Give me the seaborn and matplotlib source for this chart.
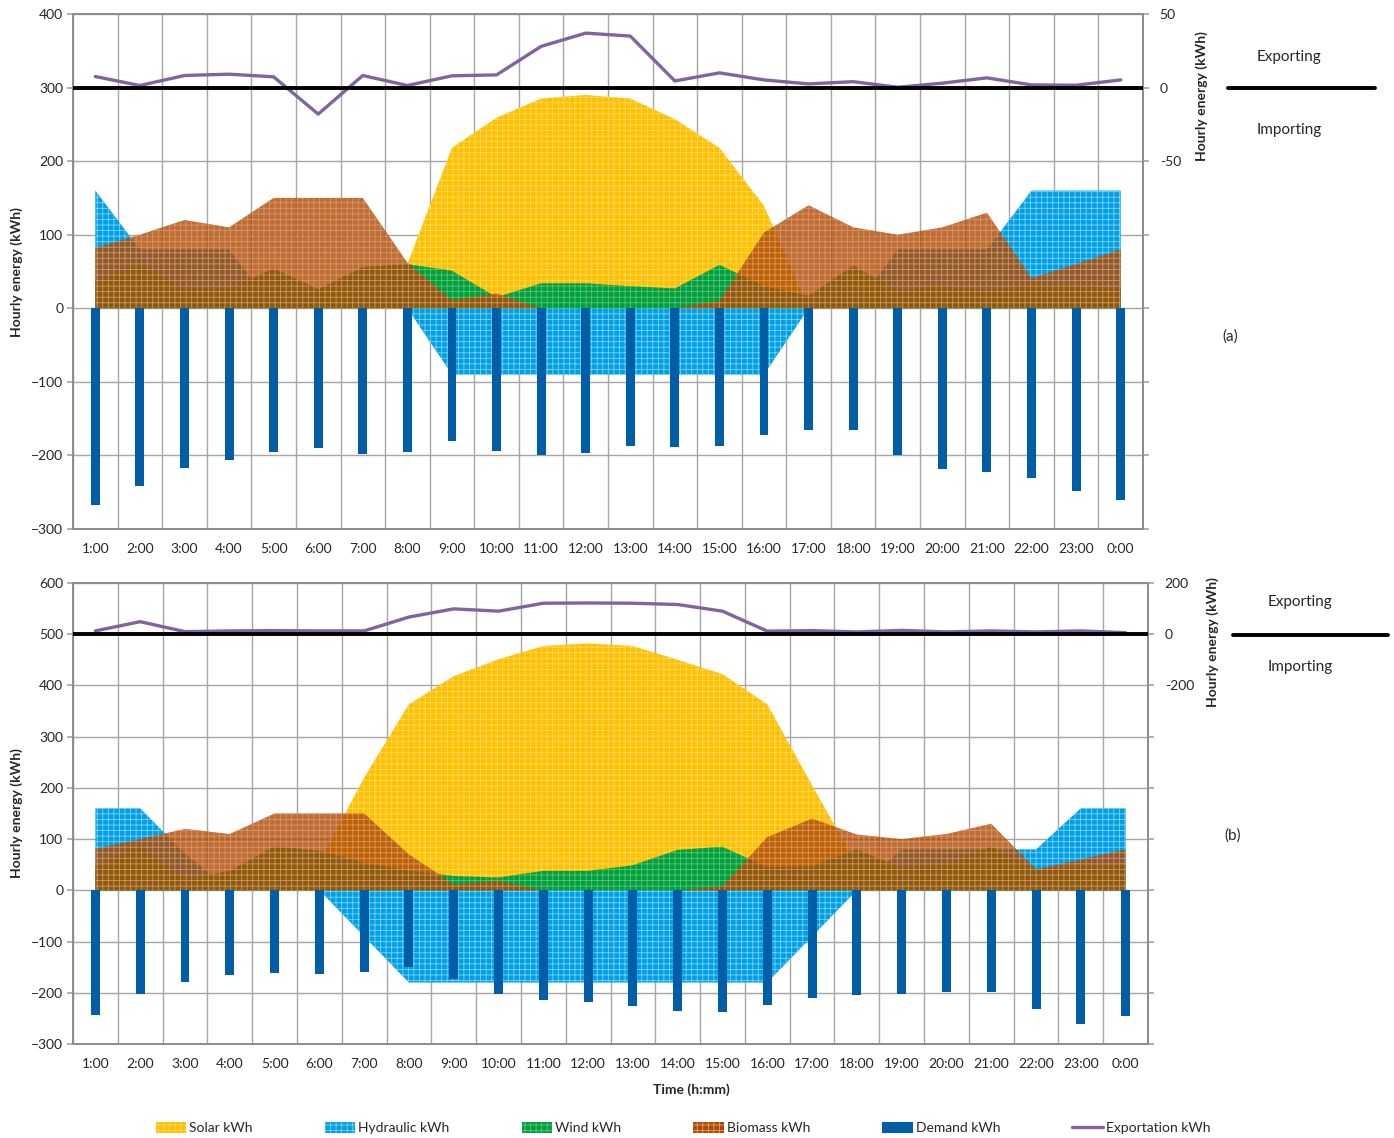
import numpy as np
import matplotlib
matplotlib.use("Agg")
import matplotlib.pyplot as plt
import seaborn as sns
from matplotlib.patches import Patch
from matplotlib.lines import Line2D

# ======================================
# Data
# ======================================

hours = ['1:00', '2:00', '3:00', '4:00', '5:00', '6:00', '7:00', '8:00', '9:00', '10:00',
         '11:00', '12:00', '13:00', '14:00', '15:00', '16:00', '17:00', '18:00', '19:00',
         '20:00', '21:00', '22:00', '23:00', '0:00']

# panel (a)
solar_a = [0, 0, 0, 0, 0, 0, 0, 60, 218, 259, 285, 290, 285, 257, 218, 139, 0, 0, 0, 0, 0, 0, 0, 0]
hydro_a = [160, 80, 80, 80, 0, 0, 0, 0, -90, -90, -90, -90, -90, -90, -90, -90, 0, 0, 80, 80, 80, 160, 160, 160]
wind_a = [37, 60, 27, 27, 54, 26, 56, 60, 51, 15, 34, 34, 30, 27, 59, 30, 17, 58, 24, 30, 24, 33, 30, 28]
biomass_a = [82, 100, 120, 110, 150, 150, 150, 62, 11, 20, 0, 0, 0, 0, 10, 103, 140, 110, 100, 110, 130, 41, 60, 80]
demand_a = [-268, -241, -217, -206, -196, -190, -198, -196, -181, -194, -200, -197, -187, -189, -187,
            -172, -165, -165, -200, -218, -223, -231, -249, -260]
export_a = [7.5, 1.4, 8.2, 9.1, 7.3, -18, 8.2, 1.4, 8, 8.6, 28, 37, 35, 4.5, 10, 5.2, 2.5, 4, 0.2,
            3, 6.6, 1.8, 1.6, 5.2]

# panel (b)
solar_b = [0, 0, 0, 0, 0, 55, 220, 363, 418, 451, 477, 482, 477, 450, 422, 363, 205, 50, 0, 0, 0, 0, 0, 0]
hydro_b = [160, 160, 72, 0, 0, 0, -90, -180, -180, -180, -180, -180, -180, -180, -180, -180, -90, 0,
           80, 80, 80, 80, 160, 160]
wind_b = [47, 88, 22, 38, 86, 77, 54, 38, 28, 25, 38, 38, 49, 79, 85, 45, 47, 80, 44, 51, 85, 41, 47, 51]
biomass_b = [81, 100, 120, 110, 150, 150, 150, 70, 12, 18, 0, 0, 0, 0, 8, 104, 140, 109, 100, 110, 130, 41, 60, 80]
demand_b = [-244, -203, -178, -165, -161, -163, -159, -150, -174, -203, -215, -218, -226, -236, -237,
            -223, -211, -204, -202, -199, -198, -232, -261, -245]
export_b = [13, 49, 10, 13, 14, 13, 13, 67, 99, 90, 121, 122, 121, 116, 90, 12, 14, 9, 15, 9, 13, 9, 13, 6]

# ======================================
# Style
# ======================================

sns.set_theme(style="white")
plt.rcParams['font.family'] = ['Lato', 'DejaVu Sans']
plt.rcParams['hatch.linewidth'] = 0.6

SOLAR, SOLAR_H = '#FFC000', '#FFD966'
HYDRO, HYDRO_H = '#00A0E6', '#7FD0F5'
WIND, WIND_H = '#00A03C', '#5CC27A'
BIO, BIO_H = '#AE4A04', '#E0A070'
DEMAND = '#005DA8'
EXPORT = '#8064A2'
GRID = '#A6A6A6'
FS = 10


def area(ax, y, color, hcolor, z, alpha=1.0):
    x = np.arange(len(y))
    ax.fill_between(x, 0, y, facecolor=color, edgecolor=hcolor, hatch='+++',
                    lw=0, alpha=alpha, zorder=z)


def draw_panel(ax, solar, hydro, wind, bio, demand, export, ylim, y2lim, y2step, y2show):
    area(ax, solar, SOLAR, SOLAR_H, 2)
    area(ax, hydro, HYDRO, HYDRO_H, 3)
    area(ax, wind, WIND, WIND_H, 4)
    area(ax, bio, BIO, BIO_H, 5, alpha=0.8)

    sns.barplot(x=np.arange(len(demand)), y=demand, ax=ax, color=DEMAND,
                saturation=1, width=0.2, linewidth=0, zorder=6)

    ax.set_xlim(-0.5, len(hours) - 0.5)
    ax.set_ylim(*ylim)
    ax.set_yticks(np.arange(ylim[0], ylim[1] + 1, 100))
    ax.set_xticks(np.arange(len(hours)))
    ax.set_xticklabels(hours, fontsize=FS)
    ax.set_xticks(np.arange(-0.5, len(hours), 1), minor=True)
    ax.tick_params(axis='x', which='both', length=0, pad=10)
    ax.tick_params(axis='y', length=4, color=GRID, labelsize=FS, pad=3)
    ax.grid(which='minor', axis='x', color=GRID, lw=1)
    ax.grid(which='major', axis='y', color=GRID, lw=1)
    ax.grid(which='major', axis='x', visible=False)
    ax.set_axisbelow(True)
    ax.set_xlabel('')
    ax.set_ylabel('')
    for s in ax.spines.values():
        s.set_color('#8C8C8C')
        s.set_linewidth(1.2)

    ax2 = ax.twinx()
    sns.lineplot(x=np.arange(len(export)), y=export, ax=ax2, color=EXPORT, lw=2.4, zorder=7)
    ax2.axhline(0, color='black', lw=2.8, zorder=8)
    ax2.set_ylim(*y2lim)
    t2 = np.arange(y2lim[0], y2lim[1] + 1, y2step)
    ax2.set_yticks(t2)
    ax2.set_yticklabels([f'{int(t)}' if t in y2show else '' for t in t2], fontsize=FS)
    ax2.tick_params(axis='y', length=4, color=GRID, pad=8)
    ax2.grid(False)
    ax2.set_ylabel('')
    for s in ax2.spines.values():
        s.set_color('#8C8C8C')
        s.set_linewidth(1.2)
    return ax2


W, H = 1394, 1138
fig = plt.figure(figsize=(W / 100, H / 100), dpi=100)

ax_a = fig.add_axes([73 / W, 1 - 529 / H, 1070 / W, 515 / H])
ax_b = fig.add_axes([73 / W, 1 - 1044 / H, 1075 / W, 461 / H])

draw_panel(ax_a, solar_a, hydro_a, wind_a, biomass_a, demand_a, export_a,
           (-300, 400), (-300, 50), 50, [50, 0, -50])
draw_panel(ax_b, solar_b, hydro_b, wind_b, biomass_b, demand_b, export_b,
           (-300, 600), (-1600, 200), 200, [200, 0, -200])

# axis titles
lab = dict(fontsize=FS, fontweight='bold', rotation=90, ha='center', va='center')
fig.text(17 / W, 1 - 272 / H, 'Hourly energy (kWh)', **lab)
fig.text(17 / W, 1 - 813 / H, 'Hourly energy (kWh)', **lab)
fig.text(1202 / W, 1 - 96 / H, 'Hourly energy (kWh)', **lab)
fig.text(1213 / W, 1 - 642 / H, 'Hourly energy (kWh)', **lab)
fig.text(691 / W, 1 - 1090 / H, 'Time (h:mm)', fontsize=FS, fontweight='bold', ha='center', va='center')

# exporting / importing annotations
for (xt, ye, yi, x0, x1, yl, tag, ytag, xtag) in [
        (1289, 57, 130, 1228, 1375, 88, '(a)', 337, 1230),
        (1300, 602, 667, 1233, 1388, 635, '(b)', 836, 1233)]:
    fig.text(xt / W, 1 - ye / H, 'Exporting', fontsize=FS + 1, ha='center', va='center')
    fig.text(xt / W, 1 - yi / H, 'Importing', fontsize=FS + 1, ha='center', va='center')
    fig.add_artist(Line2D([x0 / W, x1 / W], [1 - yl / H, 1 - yl / H], color='black', lw=2.8))
    fig.text(xtag / W, 1 - ytag / H, tag, fontsize=FS + 1, ha='center', va='center')

# legend
handles = [
    Patch(facecolor=SOLAR, edgecolor=SOLAR_H, hatch='+++', lw=0),
    Patch(facecolor=HYDRO, edgecolor=HYDRO_H, hatch='+++', lw=0),
    Patch(facecolor=WIND, edgecolor=WIND_H, hatch='+++', lw=0),
    Patch(facecolor=BIO, edgecolor=BIO_H, hatch='+++', lw=0),
    Patch(facecolor=DEMAND, lw=0),
    Line2D([0], [0], color=EXPORT, lw=2.4),
]
labels = ['Solar kWh', 'Hydraulic kWh', 'Wind kWh', 'Biomass kWh', 'Demand kWh', 'Exportation kWh']
fig.legend(handles, labels, loc='center', bbox_to_anchor=(683 / W, 1 - 1128 / H), ncol=6,
           frameon=False, fontsize=FS, handlelength=2.2, handleheight=0.8,
           handletextpad=0.2, columnspacing=5.2)

fig.savefig('out.png', dpi=100)
